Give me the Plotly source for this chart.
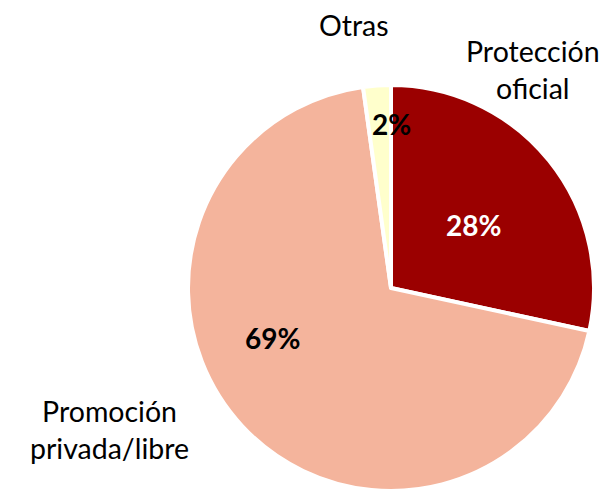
import plotly.graph_objects as go

categories = ["Protección oficial", "Promoción privada/libre", "Otras"]
values = [28.4, 69.4, 2.2]
pct_labels = ["28%", "69%", "2%"]
colors = ["#9B0000", "#F4B49C", "#FFFFCC"]

# page has an 8px body margin, so the figure is drawn offset by 8px
OFF = 8
W, H = 608 - OFF, 491 - OFF
FONT = "Lato"

cx, cy, R = 391 - OFF, 289 - OFF, 204
fig = go.Figure()
fig.add_trace(go.Pie(
    labels=categories,
    values=values,
    sort=False,
    direction="clockwise",
    rotation=0,
    marker=dict(colors=colors, line=dict(color="white", width=4)),
    textinfo="none",
    hoverinfo="label+percent",
    showlegend=False,
    domain=dict(x=[(cx - 215) / W, min(1.0, (cx + 215) / W)],
                y=[0.0, (H - cy + R) / H]),
))

# label placements (reference pixel positions)
cat_label_pos = [(533, 72, "Protección<br>oficial"),
                 (109, 431, "Promoción<br>privada/libre"),
                 (354, 27, "Otras")]
pct_pos = [(474, 227, "white"), (272, 340, "black"), (391, 126, "black")]

def px2paper(px, py):
    return (px - OFF) / W, 1 - (py - OFF - 2) / H

ann = []
for (px, py, txt) in cat_label_pos:
    x, y = px2paper(px, py)
    ann.append(dict(x=x, y=y, xref="paper", yref="paper",
                    text=txt, showarrow=False, xanchor="center", yanchor="middle",
                    font=dict(family=FONT, size=28.5, color="black")))
for (px, py, col), t in zip(pct_pos, pct_labels):
    x, y = px2paper(px, py)
    ann.append(dict(x=x, y=y, xref="paper", yref="paper",
                    text="<b>" + t + "</b>", showarrow=False,
                    xanchor="center", yanchor="middle",
                    font=dict(family=FONT, size=28, color=col)))

fig.update_layout(
    width=W, height=H,
    margin=dict(l=0, r=0, t=0, b=0),
    paper_bgcolor="white",
    plot_bgcolor="white",
    annotations=ann,
)

fig.write_html("out.html")
